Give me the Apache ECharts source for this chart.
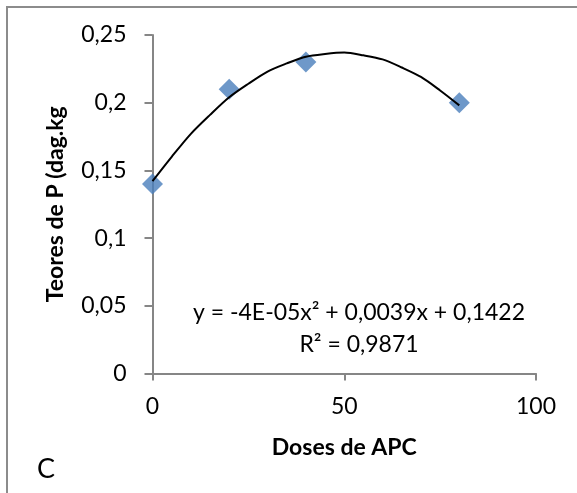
<!DOCTYPE html>
<html>
<head>
<meta charset="utf-8">
<script src="https://cdn.jsdelivr.net/npm/echarts@6/dist/echarts.min.js"></script>
<style>
  html, body { margin: 0; padding: 0; background: #fff; }
  #chart { width: 577px; height: 493px; }
</style>
</head>
<body>
<div id="chart"></div>
<script>
// pontos observados
const doses = [0, 20, 40, 80];
const teores = [0.14, 0.21, 0.23, 0.2];

// linha de tendência
const trendX = [0, 5, 10, 15, 20, 25, 30, 35, 40, 45, 50, 55, 60, 65, 70, 75, 80];
const trendY = [0.142, 0.160, 0.177, 0.191, 0.204, 0.214, 0.223, 0.229, 0.234,
                0.236, 0.237, 0.235, 0.232, 0.226, 0.219, 0.209, 0.198];

const yTickLabels = ["0", "0,05", "0,1", "0,15", "0,2", "0,25"];
const xTickLabels = ["0", "50", "100"];

const eqText = "y = -4E-05x\u00b2 + 0,0039x + 0,1422";
const r2Text = "R\u00b2 = 0,9871";

const font = "Lato, 'Open Sans', sans-serif";
const axisGray = "#868686";

const chart = echarts.init(document.getElementById("chart"));

const option = {
  animation: false,
  backgroundColor: "#fff",
  title: {
    text: "C",
    left: 32,
    top: 451,
    textStyle: { fontFamily: font, fontSize: 27, fontWeight: "normal", color: "#000" },
  },
  grid: { left: 152.5, top: 35, right: 41, bottom: 119.5 },
  xAxis: {
    type: "value",
    min: 0,
    max: 100,
    interval: 50,
    name: "Doses de APC",
    nameLocation: "middle",
    nameGap: 63,
    nameTextStyle: { fontFamily: font, fontSize: 23, fontWeight: "bold", color: "#000" },
    axisLine: { onZero: false, lineStyle: { color: axisGray, width: 2 } },
    axisTick: { show: true, length: 7, lineStyle: { color: axisGray, width: 2 } },
    axisLabel: {
      margin: 22,
      fontFamily: font,
      fontSize: 23,
      color: "#000",
      formatter: (v, i) => xTickLabels[i],
    },
    splitLine: { show: false },
  },
  yAxis: {
    type: "value",
    min: 0,
    max: 0.25,
    interval: 0.05,
    name: "Teores de P (dag.kg",
    nameLocation: "middle",
    nameGap: 85,
    nameRotate: 90,
    nameTextStyle: { fontFamily: font, fontSize: 23, fontWeight: "bold", color: "#000" },
    axisLine: { show: true, lineStyle: { color: axisGray, width: 2 } },
    axisTick: { show: true, length: 8, lineStyle: { color: axisGray, width: 2 } },
    axisLabel: {
      margin: 26,
      fontFamily: font,
      fontSize: 23,
      color: "#000",
      formatter: (v, i) => yTickLabels[i],
    },
    splitLine: { show: false },
  },
  graphic: [
    {
      type: "rect",
      shape: { x: 7, y: 7, width: 640, height: 560 },
      style: { fill: "none", stroke: "#8c8c8c", lineWidth: 2 },
      silent: true,
    },
    {
      type: "text",
      x: 359,
      y: 313,
      style: {
        text: eqText,
        fontFamily: font,
        fontSize: 23,
        fill: "#000",
        align: "center",
        verticalAlign: "middle",
      },
    },
    {
      type: "text",
      x: 359,
      y: 345,
      style: {
        text: r2Text,
        fontFamily: font,
        fontSize: 23,
        fill: "#000",
        align: "center",
        verticalAlign: "middle",
      },
    },
  ],
  series: [
    {
      type: "scatter",
      symbol: "diamond",
      symbolSize: 21,
      itemStyle: { color: "#4A7EBB" },
      data: doses.map((d, i) => [d, teores[i]]),
      z: 2,
    },
    {
      type: "line",
      smooth: 0.3,
      showSymbol: false,
      lineStyle: { color: "#000", width: 2 },
      data: trendX.map((d, i) => [d, trendY[i]]),
      z: 3,
    },
  ],
};

chart.setOption(option);
</script>
</body>
</html>
